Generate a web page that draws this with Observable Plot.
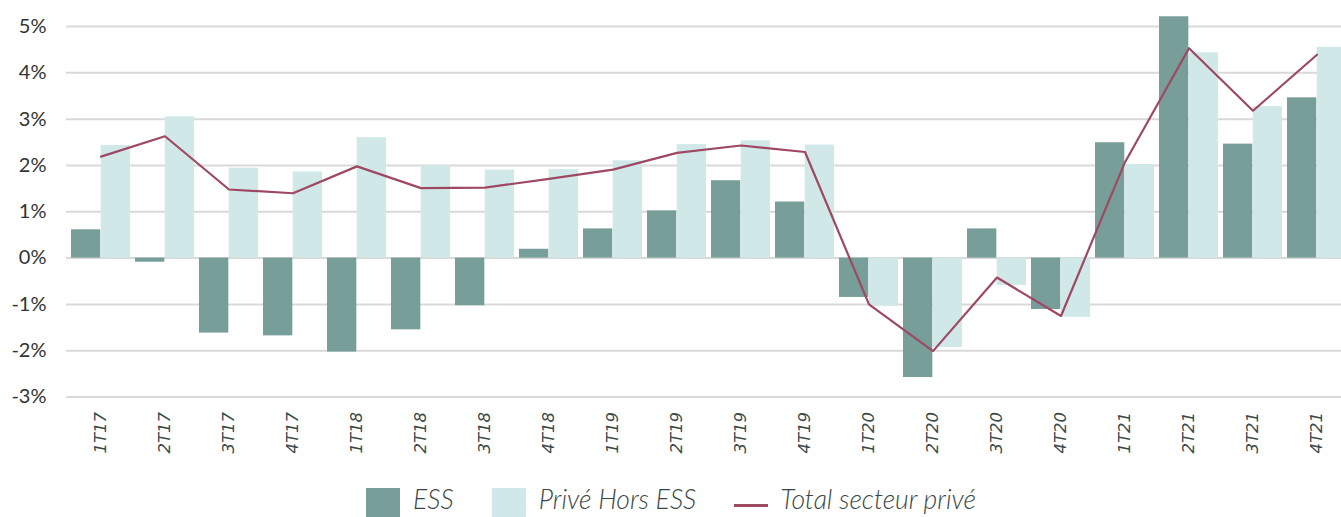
<!DOCTYPE html>
<html>
<head>
<meta charset="utf-8">
<script src="https://cdn.jsdelivr.net/npm/d3@7"></script>
<script src="https://cdn.jsdelivr.net/npm/@observablehq/plot@0.6"></script>
<style>
  html, body { margin: 0; padding: 0; background: #fff; overflow: hidden; width: 1341px; height: 517px; }
  #chart svg { display: block; overflow: hidden; }
  .legend { position: absolute; left: 366px; top: 484px; display: flex; align-items: flex-start; font-family: Lato, sans-serif; font-style: italic; font-weight: 300; font-size: 26.5px; color: #3a4646; height: 31px; line-height: 31px; white-space: nowrap; }
  .legend .item { display: flex; align-items: flex-start; margin-right: 38px; }
  .legend .sw { width: 34px; height: 33px; margin-top: 4px; margin-right: 13px; }
  .legend .ln { width: 34px; height: 3px; margin-top: 20px; margin-right: 12px; }
</style>
</head>
<body>
<div id="chart"></div>
<div class="legend">
  <div class="item"><span class="sw" style="background:#789e99"></span>ESS</div>
  <div class="item"><span class="sw" style="background:#d0e9e8"></span>Privé Hors ESS</div>
  <div class="item"><span class="ln" style="background:#9e4862"></span>Total secteur privé</div>
</div>
<script>
const quarters = ["1T17","2T17","3T17","4T17","1T18","2T18","3T18","4T18","1T19","2T19","3T19","4T19","1T20","2T20","3T20","4T20","1T21","2T21","3T21","4T21"];
const ess =      [0.61,-0.09,-1.62,-1.68,-2.03,-1.55,-1.03,0.19,0.63,1.02,1.67,1.21,-0.85,-2.58,0.63,-1.11,2.49,5.21,2.46,3.46];
const priveHors= [2.43,3.05,1.94,1.86,2.60,1.99,1.90,1.91,2.10,2.45,2.53,2.44,-1.04,-1.93,-0.59,-1.28,2.02,4.43,3.27,4.55];
const total =    [2.19,2.63,1.48,1.40,1.98,1.51,1.52,1.71,1.91,2.27,2.43,2.29,-1.00,-2.01,-0.42,-1.25,2.07,4.53,3.18,4.39];
const yTicks = [-3,-2,-1,0,1,2,3,4,5];

const data = quarters.map((q, i) => ({q, ess: ess[i], prive: priveHors[i], total: total[i]}));

const W = 1341, ML = 66, MR = 0;
const step = 64.25, pInner = 0.0755;
const r0 = 65.9, r1 = r0 + step * quarters.length;
const half = step * (1 - pInner) / 2;

const chart = Plot.plot({
  width: W,
  height: 470,
  marginLeft: ML,
  marginRight: MR,
  marginTop: 26,
  marginBottom: 73.5,
  x: {domain: quarters, range: [r0, r1], paddingInner: pInner, paddingOuter: pInner / 2, label: null},
  y: {domain: [-3, 5], label: null},
  marks: [
    Plot.ruleY(yTicks, {stroke: "#d9d9d9", strokeWidth: 2}),
    Plot.barY(data, {x: "q", y: "ess", fill: "#789e99", insetRight: half}),
    Plot.barY(data, {x: "q", y: "prive", fill: "#d0e9e8", insetLeft: half}),
    Plot.line(data, {x: "q", y: "total", stroke: "#9e4862", strokeWidth: 2.2}),
    Plot.axisY({ticks: yTicks, tickSize: 0, tickPadding: 20, tickFormat: d => d + "%", fontSize: 20, fontFamily: "Lato, sans-serif", color: "#333", label: null}),
    Plot.axisX({tickSize: 0, tickPadding: 15, tickRotate: -90, fontSize: 16.5, fontFamily: "DejaVu Sans, sans-serif", fontStyle: "italic", color: "#3a4a4a", label: null})
  ]
});
document.getElementById("chart").appendChild(chart);
</script>
</body>
</html>
